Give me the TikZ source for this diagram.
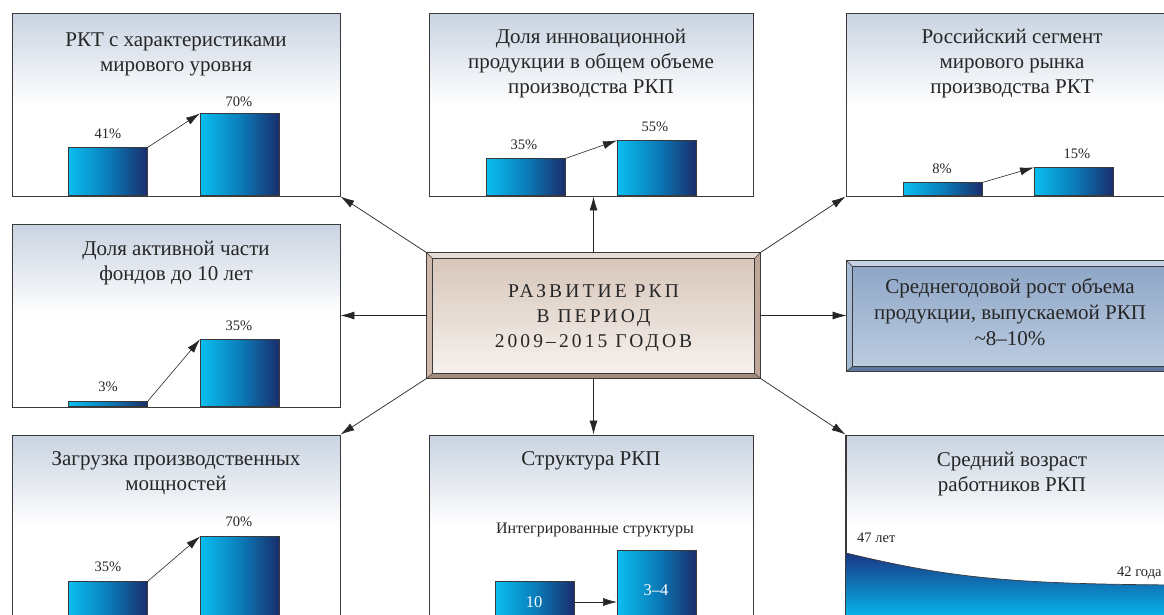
\documentclass[tikz,border=0pt]{standalone}
\usepackage{fontspec}
\setmainfont{Liberation Serif}
\usetikzlibrary{arrows.meta,calc}
\definecolor{txt}{HTML}{262626}
\definecolor{frame}{HTML}{3A3A3A}
\definecolor{paneltop}{HTML}{C9D3E1}
\definecolor{barL}{HTML}{0ABEF0}
\definecolor{barM}{HTML}{0A7DBA}
\definecolor{barR}{HTML}{1A2D6C}
\definecolor{ctop}{HTML}{D6C4B7}
\definecolor{cbot}{HTML}{F7F3F0}
\definecolor{cbevT}{HTML}{E6DBD3}
\definecolor{cbevL}{HTML}{CDB8A9}
\definecolor{cbevR}{HTML}{BFA797}
\definecolor{cbevB}{HTML}{A48C7C}
\definecolor{rtop}{HTML}{8CA4C5}
\definecolor{rbot}{HTML}{BECEE2}
\definecolor{rbevT}{HTML}{C6D3E5}
\definecolor{rbevL}{HTML}{A6BAD4}
\definecolor{rbevR}{HTML}{7890B2}
\definecolor{rbevB}{HTML}{5E79A0}
\definecolor{wavetop}{HTML}{1A3684}
\definecolor{wavebot}{HTML}{05B8EC}
\tikzset{
  panel/.style={draw=frame, line width=0.9pt, top color=paneltop, bottom color=white, middle color=white,
    minimum width=328pt, minimum height=183pt, inner sep=0pt},
  bar/.style={draw=frame, line width=0.6pt, left color=barL, right color=barR, middle color=barM,
    minimum width=79pt, inner sep=0pt, anchor=south west},
  ttl/.style={font=\fontsize{21}{25}\selectfont, text=txt, align=center, anchor=north, inner sep=0pt},
  pct/.style={font=\fontsize{14.5}{16}\selectfont, text=txt, inner sep=0pt},
  conn/.style={draw=txt, line width=0.7pt, -{Latex[length=14pt,width=8pt]}},
  small/.style={draw=txt, line width=0.6pt, -{Latex[length=14pt,width=8pt]}},
}
\begin{document}
\begin{tikzpicture}[x=1pt,y=-1pt]
\useasboundingbox (0,0) rectangle (1164,614);
\clip (0,0) rectangle (1164,614);
\fill[white] (0,0) rectangle (1164,614);

% ---------- panels ----------
\node[panel] (p1) at (176,104.5) {};
\node[panel, minimum width=324pt] (p2) at (591,104.5) {};
\node[panel, minimum width=332pt] (p3) at (1012,104.5) {};
\node[panel] (p4) at (176,315.5) {};
\node[panel] (p7) at (176,526.5) {};
\node[panel, minimum width=324pt] (p8) at (591,526.5) {};
\node[panel, minimum width=332pt] (p9) at (1012,526.5) {};

% ---------- titles ----------
\node[ttl] (t1) at ($(p1.north)+(0,20)$) {РКТ с характеристиками\\мирового уровня};
\node[ttl] (t2) at ($(p2.north)+(0,16)$) {Доля инновационной\\продукции в общем объеме\\производства РКП};
\node[ttl] (t3) at ($(p3.north)+(0,16)$) {Российский сегмент\\мирового рынка\\производства РКТ};
\node[ttl] (t4) at ($(p4.north)+(0,17)$) {Доля активной части\\фондов до 10 лет};
\node[ttl] (t7) at ($(p7.north)+(0,17)$) {Загрузка производственных\\мощностей};
\node[ttl] (t8) at ($(p8.north)+(0,17)$) {Структура РКП};
\node[ttl] (t9) at ($(p9.north)+(0,17)$) {Средний возраст\\работников РКП};

% ---------- bars: panel 1 ----------
\node[bar, minimum height=48pt] (b1a) at (68,196) {};
\node[bar, minimum height=82pt] (b1b) at (200,196) {};
\node[pct] (l1a) at (108,134) {41\%};
\node[pct] (l1b) at (239,102) {70\%};
\draw[small] (b1a.north east) -- (b1b.north west);

% panel 2
\node[bar, minimum height=37pt] (b2a) at (486,196) {};
\node[bar, minimum height=55pt] (b2b) at (617,196) {};
\node[pct] (l2a) at (524,145) {35\%};
\node[pct] (l2b) at (655,127) {55\%};
\draw[small] (b2a.north east) -- (b2b.north west);

% panel 3
\node[bar, minimum height=13pt] (b3a) at (903,196) {};
\node[bar, minimum height=28pt] (b3b) at (1034,196) {};
\node[pct] (l3a) at (942,169) {8\%};
\node[pct] (l3b) at (1077,154) {15\%};
\draw[small] (b3a.north east) -- (b3b.north west);

% panel 4
\node[bar, minimum height=5pt] (b4a) at (68,407) {};
\node[bar, minimum height=67pt] (b4b) at (200,407) {};
\node[pct] (l4a) at (108,387) {3\%};
\node[pct] (l4b) at (239,326) {35\%};
\draw[small] (b4a.north east) -- (b4b.north west);

% panel 7
\node[bar, minimum height=36pt] (b7a) at (68,618) {};
\node[bar, minimum height=81pt] (b7b) at (200,618) {};
\node[pct] (l7a) at (108,567) {35\%};
\node[pct] (l7b) at (239,522) {70\%};
\draw[small] (b7a.north east) -- (b7b.north west);

% panel 8
\node[font=\fontsize{16}{18}\selectfont, text=txt, inner sep=0pt] (s8) at (595,530) {Интегрированные структуры};
\node[bar, minimum height=36pt] (b8a) at (495,618) {};
\node[bar, minimum height=67pt] (b8b) at (617,618) {};
\node[font=\fontsize{16.5}{18}\selectfont, text=white, inner sep=0pt] (n8a) at (534,602) {10};
\node[font=\fontsize{16.5}{18}\selectfont, text=white, inner sep=0pt] (n8b) at (656,590) {3–4};
\coordinate (a8s) at (b8a.east |- n8a);
\coordinate (a8e) at (b8b.west |- n8a);
\draw[small] (a8s) -- (a8e);

% panel 9 : wave
\coordinate (w0) at (846,553);
\coordinate (w1) at (1180,585);
\shade[top color=wavetop, bottom color=wavebot, shading angle=0]
  (w0) .. controls (950,578) and (1010,584) .. (w1) -- (1180,618) -- (846,618) -- cycle;
\draw[frame, line width=0.7pt] (w0) .. controls (950,578) and (1010,584) .. (w1);
\draw[frame, line width=0.9pt] (p9.north west) -- (p9.south west);
\node[pct, anchor=base west] (w47) at (857,542) {47 лет};
\node[pct, anchor=base west] (w42) at (1117,576) {42 года};

% ---------- centre box ----------
\node[draw=frame, line width=0.8pt, top color=ctop, bottom color=cbot, minimum width=333pt, minimum height=125pt, inner sep=0pt] (c) at (593.5,315.5) {};
\coordinate (ci1) at ($(c.north west)+(6,6)$);
\coordinate (ci2) at ($(c.north east)+(-6,6)$);
\coordinate (ci3) at ($(c.south east)+(-6,-5)$);
\coordinate (ci4) at ($(c.south west)+(6,-5)$);
\fill[cbevT] (c.north west) -- (c.north east) -- (ci2) -- (ci1) -- cycle;
\fill[cbevL] (c.north west) -- (ci1) -- (ci4) -- (c.south west) -- cycle;
\fill[cbevR] (c.north east) -- (c.south east) -- (ci3) -- (ci2) -- cycle;
\fill[cbevB] (c.south west) -- (ci4) -- (ci3) -- (c.south east) -- cycle;
\draw[frame, line width=0.5pt] (ci1) rectangle (ci3);
\draw[frame, line width=0.5pt] (c.north west) -- (ci1) (c.north east) -- (ci2) (c.south east) -- (ci3) (c.south west) -- (ci4);
\draw[frame, line width=0.9pt] (c.north west) rectangle (c.south east);
\node[font=\fontsize{19.5}{25}\selectfont\addfontfeatures{LetterSpace=16}, text=txt, align=center, inner sep=0pt] (ct) at ($(c.center)+(0,3)$) {РАЗВИТИЕ РКП\\В ПЕРИОД\\2009–2015 ГОДОВ};

% ---------- right box ----------
\node[draw=frame, line width=0.8pt, top color=rtop, bottom color=rbot, minimum width=330pt, minimum height=110pt, inner sep=0pt] (r) at (1012,316) {};
\coordinate (ri1) at ($(r.north west)+(6,6)$);
\coordinate (ri2) at ($(r.north east)+(-6,6)$);
\coordinate (ri3) at ($(r.south east)+(-6,-5)$);
\coordinate (ri4) at ($(r.south west)+(6,-5)$);
\fill[rbevT] (r.north west) -- (r.north east) -- (ri2) -- (ri1) -- cycle;
\fill[rbevL] (r.north west) -- (ri1) -- (ri4) -- (r.south west) -- cycle;
\fill[rbevR] (r.north east) -- (r.south east) -- (ri3) -- (ri2) -- cycle;
\fill[rbevB] (r.south west) -- (ri4) -- (ri3) -- (r.south east) -- cycle;
\draw[frame, line width=0.5pt] (ri1) rectangle (ri3);
\draw[frame, line width=0.5pt] (r.north west) -- (ri1) (r.south west) -- (ri4);
\draw[frame, line width=0.9pt] (r.north west) rectangle (r.south east);
\node[font=\fontsize{21}{26}\selectfont, text=txt, align=center, inner sep=0pt] (rt) at (1010,312) {Среднегодовой рост объема\\продукции, выпускаемой РКП\\\textasciitilde 8–10\%};

% ---------- connectors ----------
\draw[conn] (c.north) -- (c.north |- p2.south);
\draw[conn] (c.south) -- (c.south |- p8.north);
\draw[conn] (c.west) -- (c.west -| p4.east);
\draw[conn] (c.east) -- (c.east -| r.west);
\draw[conn] (c.north west) -- (p1.south east);
\draw[conn] (c.north east) -- (p3.south west);
\draw[conn] (c.south west) -- (p7.north east);
\draw[conn] (c.south east) -- (p9.north west);
\end{tikzpicture}
\end{document}
